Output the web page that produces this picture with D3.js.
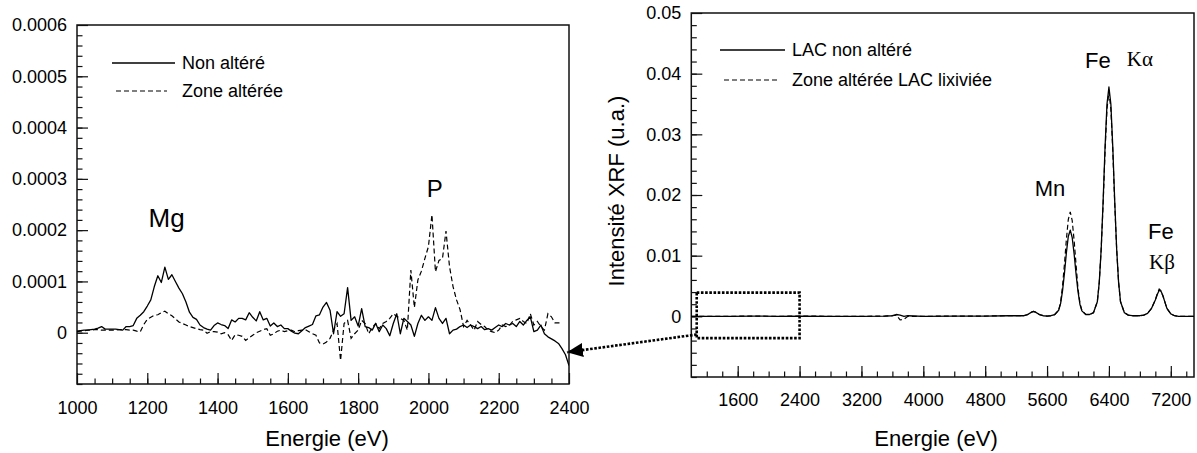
<!DOCTYPE html>
<html><head><meta charset="utf-8">
<script src="https://cdn.jsdelivr.net/npm/d3@7"></script>
<style>
body{margin:0;background:#fff;}
svg{display:block;font-family:"Liberation Sans", Arial, sans-serif;}
</style></head><body>
<svg id="chart" width="1197" height="453"></svg>
<script>
// ---------- DATA ----------
// Left panel: energy grid (eV) start/step, intensities in units of 1e-5
const leftEnergyStart = 1000, leftEnergyStep = 10;
const leftNonAltere = [
 0.3,0.4,0.5,0.5,0.6,0.7,0.9,1.2,0.7,0.7,
 0.7,0.7,0.6,0.5,1.2,1.2,1.4,2.8,3.4,4.1,
 5.2,6.4,9.0,11.1,9.8,12.8,10.4,11.3,10.0,8.7,
 7.6,6.0,4.0,3.0,2.6,1.5,1.0,0.7,0.5,1.4,
 1.9,1.6,1.4,0.8,2.5,2.1,2.8,2.8,2.5,3.9,
 3.0,2.3,4.1,2.5,2.8,1.3,1.9,1.2,1.5,0.8,
 0.8,0.3,-0.1,-0.2,0.4,1.0,1.3,1.6,3.3,3.5,
 5.0,5.9,4.4,-0.2,4.1,3.2,3.7,8.8,2.4,3.1,
 1.3,4.7,1.2,1.0,0.5,1.8,0.2,1.5,0.8,-0.6,
 1.8,3.7,-0.2,2.8,2.2,1.5,-0.7,1.8,3.4,2.4,
 3.1,2.4,4.9,2.8,1.8,2.8,-0.2,0.5,0.7,1.2,
 1.5,1.0,1.5,1.2,0.8,1.2,0.6,0.8,0.5,1.0,
 1.5,1.2,1.8,1.5,1.8,1.2,2.2,1.5,2.4,3.1,
 0.2,0.5,1.5,-0.2,-0.8,-1.2,-1.6,-2.1,-3.1,-4.3,
 -6.4
];
const leftZoneAlteree = [
 0.2,0.3,0.4,0.5,0.5,0.6,0.6,0.5,0.5,0.5,
 0.5,0.5,0.6,0.6,0.6,0.5,0.5,0.3,0.2,1.6,
 2.6,3.0,3.4,3.5,3.9,4.2,3.7,3.3,2.7,2.1,
 1.8,1.5,1.2,1.0,0.8,0.6,0.5,-0.1,0.2,0.2,
 0.1,-0.2,0.0,-0.4,-1.5,-0.4,-0.5,-0.7,-1.5,-1.0,
 -0.5,0.0,0.3,0.6,0.8,-0.5,-0.2,0.3,0.5,0.2,
 0.4,0.5,0.2,0.4,0.5,0.6,0.2,-0.2,-0.5,-2.0,
 -2.2,-1.8,-1.1,0.5,1.8,-5.4,1.8,2.4,-1.1,-0.2,
 0.5,2.4,1.8,-0.2,1.0,1.8,0.8,1.8,2.2,2.8,
 3.7,3.2,2.8,2.4,0.5,12.2,4.9,10.3,12.0,14.5,
 16.8,23.0,11.9,14.1,14.5,19.8,12.9,9.0,6.4,4.5,
 1.2,2.4,1.5,0.5,2.2,1.6,1.2,0.5,0.2,0.0,
 0.5,1.5,1.2,1.4,2.2,2.5,2.8,2.2,1.8,3.7,
 1.5,2.2,1.2,0.5,3.7,3.1,1.9,1.9,1.9
];
const leftUnit = 1e-5;

// Right panel: energies (eV), intensities in units of 1e-3
const rightEnergies = [1000,1200,1500,1800,2100,2400,2800,3200,3500,3600,3650,3700,3750,3800,4000,4400,4800,5100,5300,5350,5400,5425,5450,5500,5550,5600,5650,5700,5750,5775,5800,5825,5850,5875,5900,5925,5950,5975,6000,6025,6050,6100,6150,6200,6250,6275,6300,6325,6350,6375,6400,6425,6450,6475,6500,6525,6550,6600,6650,6700,6800,6850,6900,6950,7000,7025,7050,7075,7100,7125,7150,7200,7250,7300,7400,7500];
const rightNonAltere = [0,0,0,0.05,0,0.05,0,0,0.05,0.1,0.3,0.2,0,0.1,0,0.05,0.05,0.1,0.1,0.3,0.7,0.8,0.7,0.3,0.1,0.05,0.1,0.3,1.0,2.1,4.2,7.1,10.5,13.2,14.2,13.0,10.3,7.0,4.1,2.0,0.9,0.3,0.3,0.6,2.4,5.6,11.1,19.0,27.9,35.0,37.8,35.0,27.9,19.0,11.1,5.6,2.4,0.6,0.2,0.1,0.1,0.2,0.5,1.3,2.7,3.6,4.3,4.1,3.3,2.3,1.3,0.4,0.1,0,0,0];
const rightZoneAlteree = [0,0,0,0.05,0,0.05,0,0,0.05,0.1,0.2,-0.6,-0.5,0,0,0.05,0.05,0.1,0.1,0.3,0.7,0.8,0.7,0.3,0.1,0.05,0.1,0.3,1.0,2.3,5.0,8.6,12.7,16.0,17.2,15.8,12.5,8.5,4.6,2.2,1.0,0.3,0.3,0.6,2.4,5.6,11.1,18.5,27.2,34.2,37.0,34.2,27.2,18.5,11.1,5.6,2.4,0.6,0.2,0.1,0.1,0.2,0.5,1.3,2.7,3.7,4.5,4.2,3.3,2.3,1.3,0.4,0.1,0,0,0];
const rightUnit = 1e-3;

// Ticks
const leftXTicks = [1000,1200,1400,1600,1800,2000,2200,2400];
const leftYTicks = [0,0.0001,0.0002,0.0003,0.0004,0.0005,0.0006];
const leftYTickLabels = ["0","0.0001","0.0002","0.0003","0.0004","0.0005","0.0006"];
const rightXTicks = [1600,2400,3200,4000,4800,5600,6400,7200];
const rightYTicks = [0,0.01,0.02,0.03,0.04,0.05];
const rightYTickLabels = ["0","0.01","0.02","0.03","0.04","0.05"];

// Legends / annotations
const leftLegend = ["Non altéré","Zone altérée"];
const rightLegend = ["LAC non altéré","Zone altérée LAC lixiviée"];
const xTitle = "Energie (eV)";
const yTitleRight = "Intensité XRF (u.a.)";

// ---------- DRAW ----------
const svg = d3.select("#chart");
const ink = "#111";
const dashPattern = "5,3";

function panel(cfg){
  const g = svg.append("g");
  const x = d3.scaleLinear().domain(cfg.xDomain).range([cfg.x0, cfg.x1]);
  const y = d3.scaleLinear().domain(cfg.yDomain).range([cfg.y1, cfg.y0]);
  const clipId = "clip" + cfg.id;
  svg.append("clipPath").attr("id", clipId).append("rect")
    .attr("x", cfg.x0).attr("y", cfg.y0).attr("width", cfg.x1-cfg.x0).attr("height", cfg.y1-cfg.y0);

  // minor ticks
  g.append("g").attr("transform",`translate(0,${cfg.y1})`)
    .call(d3.axisBottom(x).tickValues(cfg.xMinor).tickSize(-5.5).tickSizeOuter(0).tickFormat(""))
    .call(a=>a.select(".domain").remove());
  g.append("g").attr("transform",`translate(${cfg.x0},0)`)
    .call(d3.axisLeft(y).tickValues(cfg.yMinor).tickSize(-5.5).tickSizeOuter(0).tickFormat(""))
    .call(a=>a.select(".domain").remove());
  // major ticks
  const xa = g.append("g").attr("transform",`translate(0,${cfg.y1})`)
    .call(d3.axisBottom(x).tickValues(cfg.xTicks).tickSize(-11).tickSizeOuter(0).tickPadding(cfg.xPad).tickFormat(d3.format("d")));
  const ya = g.append("g").attr("transform",`translate(${cfg.x0},0)`)
    .call(d3.axisLeft(y).tickValues(cfg.yTicks).tickSize(-11).tickSizeOuter(0).tickPadding(10)
      .tickFormat((d,i)=>cfg.yLabels[i]));
  g.selectAll(".tick line").attr("stroke", ink).attr("stroke-width",1.2);
  g.selectAll(".domain").remove();
  g.selectAll(".tick text").attr("font-size",18).attr("fill","#000")
    .attr("font-family",'"Liberation Sans", Arial, sans-serif');
  // frame
  g.append("rect").attr("x",cfg.x0).attr("y",cfg.y0)
    .attr("width",cfg.x1-cfg.x0).attr("height",cfg.y1-cfg.y0)
    .attr("fill","none").attr("stroke",ink).attr("stroke-width",1.5);

  const line = d3.line().x(d=>x(d[0])).y(d=>y(d[1]));
  const lg = g.append("g").attr("clip-path",`url(#${clipId})`);
  lg.append("path").datum(cfg.solid).attr("d",line)
    .attr("fill","none").attr("stroke","#000").attr("stroke-width",1.3).attr("stroke-linejoin","round");
  lg.append("path").datum(cfg.dashed).attr("d",line)
    .attr("fill","none").attr("stroke","#000").attr("stroke-width",1.2).attr("stroke-dasharray",dashPattern);
  return {x,y,g};
}

const leftSolid = leftNonAltere.map((v,i)=>[leftEnergyStart+i*leftEnergyStep, v*leftUnit]);
const leftDashed = leftZoneAlteree.map((v,i)=>[leftEnergyStart+i*leftEnergyStep, v*leftUnit]);
const rightSolid = rightEnergies.map((e,i)=>[e, rightNonAltere[i]*rightUnit]);
const rightDashed = rightEnergies.map((e,i)=>[e, rightZoneAlteree[i]*rightUnit]);

const L = panel({id:"L", x0:77, x1:569, y0:25, y1:384,
  xDomain:[1000,2400], yDomain:[-0.0001,0.0006],
  xTicks:leftXTicks, yTicks:leftYTicks, yLabels:leftYTickLabels,
  xMinor:d3.range(1050,2400,50), yMinor:d3.range(-0.0001,0.0006,0.00002),
  xPad:17, solid:leftSolid, dashed:leftDashed});

const R = panel({id:"R", x0:691.3, x1:1194, y0:13, y1:377,
  xDomain:[1000,7500], yDomain:[-0.01,0.05],
  xTicks:rightXTicks, yTicks:rightYTicks, yLabels:rightYTickLabels,
  xMinor:d3.range(1200,7500,200), yMinor:d3.range(-0.01,0.05,0.002),
  xPad:16, solid:rightSolid, dashed:rightDashed});

// legends
function legend(x1, x2, xt, yA, yB, labels){
  svg.append("line").attr("x1",x1).attr("x2",x2).attr("y1",yA).attr("y2",yA)
    .attr("stroke","#000").attr("stroke-width",1.3);
  svg.append("line").attr("x1",x1+4).attr("x2",x2-8).attr("y1",yB).attr("y2",yB)
    .attr("stroke","#000").attr("stroke-width",1.2).attr("stroke-dasharray",dashPattern);
  svg.append("text").attr("x",xt).attr("y",yA).attr("dy","0.35em").attr("font-size",18).text(labels[0]);
  svg.append("text").attr("x",xt).attr("y",yB).attr("dy","0.35em").attr("font-size",18).text(labels[1]);
}
legend(112,175,182,63,91,leftLegend);
legend(720,785,792,50,80,rightLegend);

// axis titles
svg.append("text").attr("x",327).attr("y",446).attr("text-anchor","middle").attr("font-size",22).text(xTitle);
svg.append("text").attr("x",936).attr("y",446).attr("text-anchor","middle").attr("font-size",22).text(xTitle);
svg.append("text").attr("transform","translate(624,191) rotate(-90)").attr("text-anchor","middle")
  .attr("font-size",22).text(yTitleRight);

// peak annotations
function ann(s, xs, ys, e, v, txt, size, anchor, serif){
  svg.append("text").attr("x",xs(e)).attr("y",ys(v)).attr("text-anchor",anchor)
    .attr("font-size",size)
    .attr("font-family", serif ? '"Liberation Serif", "Times New Roman", serif' : '"Liberation Sans", Arial, sans-serif')
    .text(txt);
}
ann(svg, L.x, L.y, 1255, 0.000206, "Mg", 26, "middle", false);
ann(svg, L.x, L.y, 2018, 0.000264, "P", 24, "middle", false);
ann(svg, R.x, R.y, 5639, 0.0198, "Mn", 22, "middle", false);
ann(svg, R.x, R.y, 6092, 0.0409, "Fe", 22, "start", false);
ann(svg, R.x, R.y, 6631, 0.0413, "Kα", 21, "start", true);
ann(svg, R.x, R.y, 6906, 0.0127, "Fe", 22, "start", false);
ann(svg, R.x, R.y, 6919, 0.0078, "Kβ", 21, "start", true);

// dotted zoom box on right panel and arrow to left panel
const zoomBox = {e0:1070, e1:2400, v0:-0.0036, v1:0.0039};
svg.append("rect").attr("x",R.x(zoomBox.e0)).attr("y",R.y(zoomBox.v1))
  .attr("width",R.x(zoomBox.e1)-R.x(zoomBox.e0)).attr("height",R.y(zoomBox.v0)-R.y(zoomBox.v1))
  .attr("fill","none").attr("stroke","#000").attr("stroke-width",2.6).attr("stroke-dasharray","2.6,1.6");

svg.append("defs").append("marker").attr("id","ahead").attr("viewBox","0 0 16 14")
  .attr("refX",16).attr("refY",7).attr("markerWidth",16).attr("markerHeight",14)
  .attr("markerUnits","userSpaceOnUse").attr("orient","auto")
  .append("path").attr("d","M0,0 L16,7 L0,14 Z").attr("fill","#000");
svg.append("line")
  .attr("x1",R.x(zoomBox.e0)).attr("y1",R.y(-0.003))
  .attr("x2",L.x(2400)-2).attr("y2",L.y(-0.000038))
  .attr("stroke","#000").attr("stroke-width",2.6).attr("stroke-dasharray","2.6,1.6")
  .attr("marker-end","url(#ahead)");
</script>
</body></html>
